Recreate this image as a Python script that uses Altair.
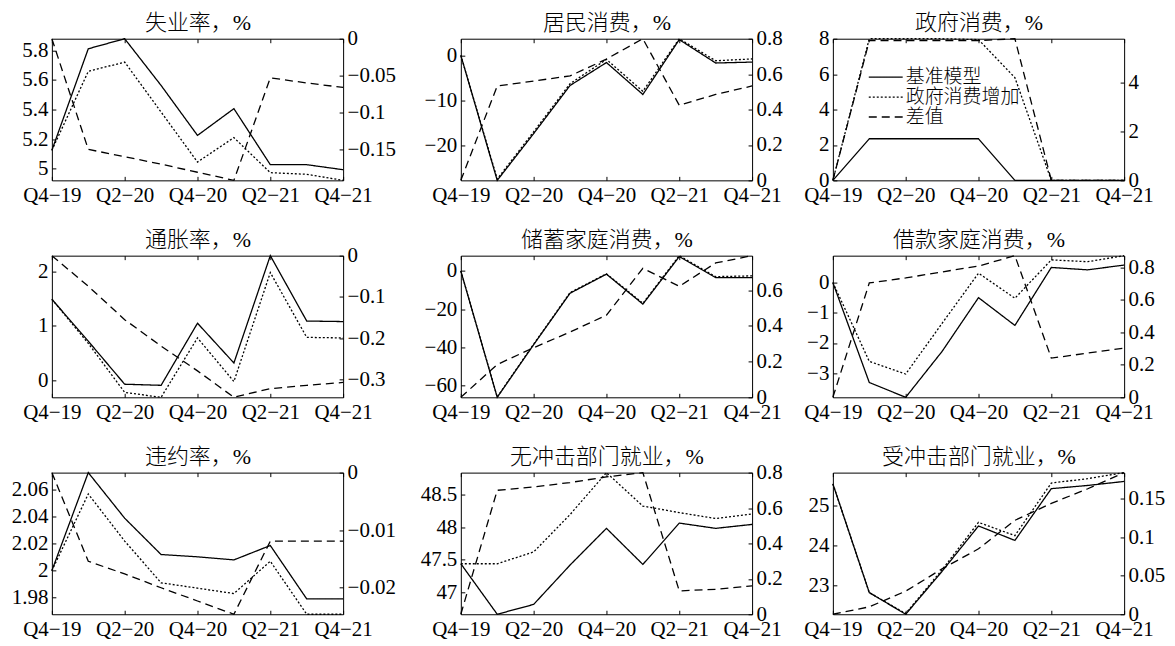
import altair as alt
import pandas as pd

FONT = "Liberation Serif, Noto Sans CJK SC"

quarters = ["Q4−19", "Q1−20", "Q2−20", "Q3−20", "Q4−20", "Q1−21", "Q2−21", "Q3−21", "Q4−21"]
labeled_quarters = ["Q4−19", "Q2−20", "Q4−20", "Q2−21", "Q4−21"]
series_names = ["基准模型", "政府消费增加", "差值"]

titles = ["失业率，%", "居民消费，%", "政府消费，%",
          "通胀率，%", "储蓄家庭消费，%", "借款家庭消费，%",
          "违约率，%", "无冲击部门就业，%", "受冲击部门就业，%"]

# 失业率
unemp_base = [5.124, 5.811, 5.879, 5.563, 5.225, 5.406, 5.027, 5.027, 4.993]
unemp_policy = [5.124, 5.658, 5.721, 5.383, 5.045, 5.210, 4.973, 4.962, 4.921]
unemp_diff = [0.0, -0.150, -0.160, -0.170, -0.181, -0.192, -0.053, -0.060, -0.066]
# 居民消费
cons_base = [0.0, -27.8, -17.4, -6.7, -1.6, -8.7, 3.5, -1.7, -1.5]
cons_policy = [0.0, -27.5, -17.0, -6.3, -0.9, -8.0, 3.7, -1.2, -0.8]
cons_diff = [0.0, 0.533, 0.561, 0.590, 0.685, 0.800, 0.424, 0.485, 0.533]
# 政府消费
gov_base = [0.0, 2.35, 2.35, 2.35, 2.35, 0.0, 0.0, 0.0, 0.0]
gov_policy = [0.0, 8.0, 8.0, 8.0, 7.95, 5.8, 0.0, 0.0, 0.0]
gov_diff = [0.0, 5.70, 5.70, 5.70, 5.70, 5.78, 0.0, 0.0, 0.0]
# 通胀率
infl_base = [1.49, 0.72, -0.07, -0.09, 1.05, 0.32, 2.29, 1.09, 1.08]
infl_policy = [1.49, 0.68, -0.22, -0.31, 0.78, -0.02, 1.98, 0.79, 0.78]
infl_diff = [0.0, -0.074, -0.155, -0.219, -0.279, -0.343, -0.322, -0.314, -0.307]
# 储蓄家庭消费
saver_base = [0.0, -66.3, -38.7, -11.7, -1.7, -17.4, 7.5, -3.5, -3.5]
saver_policy = [0.0, -66.1, -38.4, -11.4, -1.5, -17.0, 8.0, -3.0, -2.6]
saver_diff = [0.0, 0.184, 0.278, 0.366, 0.460, 0.723, 0.622, 0.753, 0.794]
# 借款家庭消费
borr_base = [0.0, -3.31, -3.80, -2.28, -0.50, -1.42, 0.50, 0.42, 0.58]
borr_policy = [0.0, -2.61, -3.03, -1.35, 0.31, -0.52, 0.75, 0.69, 0.89]
borr_diff = [0.0, 0.704, 0.735, 0.772, 0.808, 0.872, 0.241, 0.272, 0.303]
# 违约率
def_base = [2.000, 2.0729, 2.039, 2.012, 2.0103, 2.008, 2.0187, 1.979, 1.979]
def_policy = [2.000, 2.057, 2.022, 1.991, 1.987, 1.983, 2.007, 1.9676, 1.9676]
def_diff = [0.0, -0.0154, -0.0176, -0.0200, -0.0223, -0.0246, -0.0119, -0.0119, -0.0119]
# 无冲击部门就业
unsh_base = [47.44, 46.67, 46.82, 47.42, 47.98, 47.43, 48.06, 47.98, 48.04]
unsh_policy = [47.44, 47.44, 47.62, 48.19, 48.83, 48.32, 48.22, 48.13, 48.20]
unsh_diff = [0.0, 0.700, 0.719, 0.744, 0.776, 0.800, 0.132, 0.141, 0.160]
# 受冲击部门就业
sh_base = [25.53, 22.82, 22.28, 23.35, 24.48, 24.12, 25.41, 25.49, 25.59]
sh_policy = [25.53, 22.82, 22.30, 23.39, 24.57, 24.24, 25.55, 25.66, 25.81]
sh_diff = [0.0, 0.0096, 0.030, 0.059, 0.085, 0.122, 0.144, 0.163, 0.184]

left_ticks = [
    [5, 5.2, 5.4, 5.6, 5.8], [-20, -10, 0], [0, 2, 4, 6, 8],
    [0, 1, 2], [-60, -40, -20, 0], [-3, -2, -1, 0],
    [1.98, 2, 2.02, 2.04, 2.06], [47, 47.5, 48, 48.5], [23, 24, 25],
]
right_ticks = [
    [-0.15, -0.1, -0.05, 0], [0, 0.2, 0.4, 0.6, 0.8], [0, 2, 4],
    [-0.3, -0.2, -0.1, 0], [0, 0.2, 0.4, 0.6, 0.8], [0, 0.2, 0.4, 0.6, 0.8],
    [-0.02, -0.01, 0], [0, 0.2, 0.4, 0.6, 0.8], [0, 0.05, 0.1, 0.15],
]

data = [
    (unemp_base, unemp_policy, unemp_diff), (cons_base, cons_policy, cons_diff),
    (gov_base, gov_policy, gov_diff), (infl_base, infl_policy, infl_diff),
    (saver_base, saver_policy, saver_diff), (borr_base, borr_policy, borr_diff),
    (def_base, def_policy, def_diff), (unsh_base, unsh_policy, unsh_diff),
    (sh_base, sh_policy, sh_diff),
]

# axis extents per column (left, right)
LEFT_EXT = [51, 58, 39]
RIGHT_EXT = [58, 40, 50]
TICK = 4

W, H = 292, 142

axis_common = dict(
    tickSize=TICK, tickColor="black", tickWidth=1, domain=False, grid=False,
    labelFont=FONT, labelFontSize=21, labelColor="black",
    offset=-TICK,
)

dash_scale = alt.Scale(domain=series_names, range=[[1, 0], [2, 2], [8, 5]])


def make_panel(i):
    base, policy, diff = data[i]
    col = i % 3
    n = len(quarters)
    left_df = pd.DataFrame({
        "季度": quarters * 2,
        "idx": list(range(n)) * 2,
        "序列": [series_names[0]] * n + [series_names[1]] * n,
        "值": list(base) + list(policy),
    })
    right_df = pd.DataFrame({
        "季度": quarters,
        "idx": list(range(n)),
        "序列": [series_names[2]] * n,
        "值": list(diff),
    })
    xscale = alt.Scale(type="point", domain=quarters, padding=0)

    if i == 2:
        legend = alt.Legend(
            orient="none", legendX=52, legendY=29, title=None, padding=0,
            symbolType="M-3,0H1", symbolSize=289, symbolStrokeWidth=1.3,
            symbolStrokeColor="black", labelFont=FONT, labelFontSize=19,
            labelFontWeight=300, labelColor="black", labelOffset=2, rowPadding=0,
        )
    else:
        legend = None

    left = alt.Chart(left_df).mark_line(color="black", strokeWidth=1.3).encode(
        x=alt.X("季度:O", scale=xscale,
                axis=alt.Axis(orient="bottom", values=labeled_quarters, labelAngle=0,
                              labelPadding=4, labelFlush=False, labelOverlap=False,
                              title=None, **axis_common)),
        y=alt.Y("值:Q", scale=alt.Scale(zero=False, nice=False),
                axis=alt.Axis(orient="left", values=left_ticks[i], format="~f",
                              labelPadding=4, minExtent=LEFT_EXT[col] + TICK,
                              maxExtent=LEFT_EXT[col] + TICK, title=None,
                              **axis_common)),
        strokeDash=alt.StrokeDash("序列:N", scale=dash_scale, legend=legend),
        order=alt.Order("idx:Q"),
    )
    right = alt.Chart(right_df).mark_line(color="black", strokeWidth=1.3).encode(
        x=alt.X("季度:O", scale=xscale,
                axis=alt.Axis(orient="top", values=labeled_quarters, labels=False,
                              title=titles[i], titleFont=FONT, titleFontSize=22,
                              titleFontWeight=300, titleColor="black",
                              titlePadding=4, **axis_common)),
        y=alt.Y("值:Q", scale=alt.Scale(zero=False, nice=False),
                axis=alt.Axis(orient="right", values=right_ticks[i], format="~f",
                              labelPadding=4, minExtent=RIGHT_EXT[col] + TICK,
                              maxExtent=RIGHT_EXT[col] + TICK, title=None,
                              **axis_common)),
        strokeDash=alt.StrokeDash("序列:N", scale=dash_scale),
        order=alt.Order("idx:Q"),
    )
    return alt.layer(left, right).resolve_scale(y="independent").resolve_axis(
        x="independent", y="independent"
    ).properties(width=W, height=H)


panels = [make_panel(i) for i in range(9)]

chart = alt.concat(
    *panels, columns=3, spacing={"row": 21.5, "column": 0}, align="each"
).resolve_scale(strokeDash="independent").resolve_legend(
    strokeDash="independent"
).properties(
    padding={"left": 0, "top": 10, "right": 0, "bottom": 0},
    background="white",
).configure_view(
    stroke="black", strokeWidth=1
)

chart.save("out.html", embed_options={"renderer": "svg", "actions": False})
